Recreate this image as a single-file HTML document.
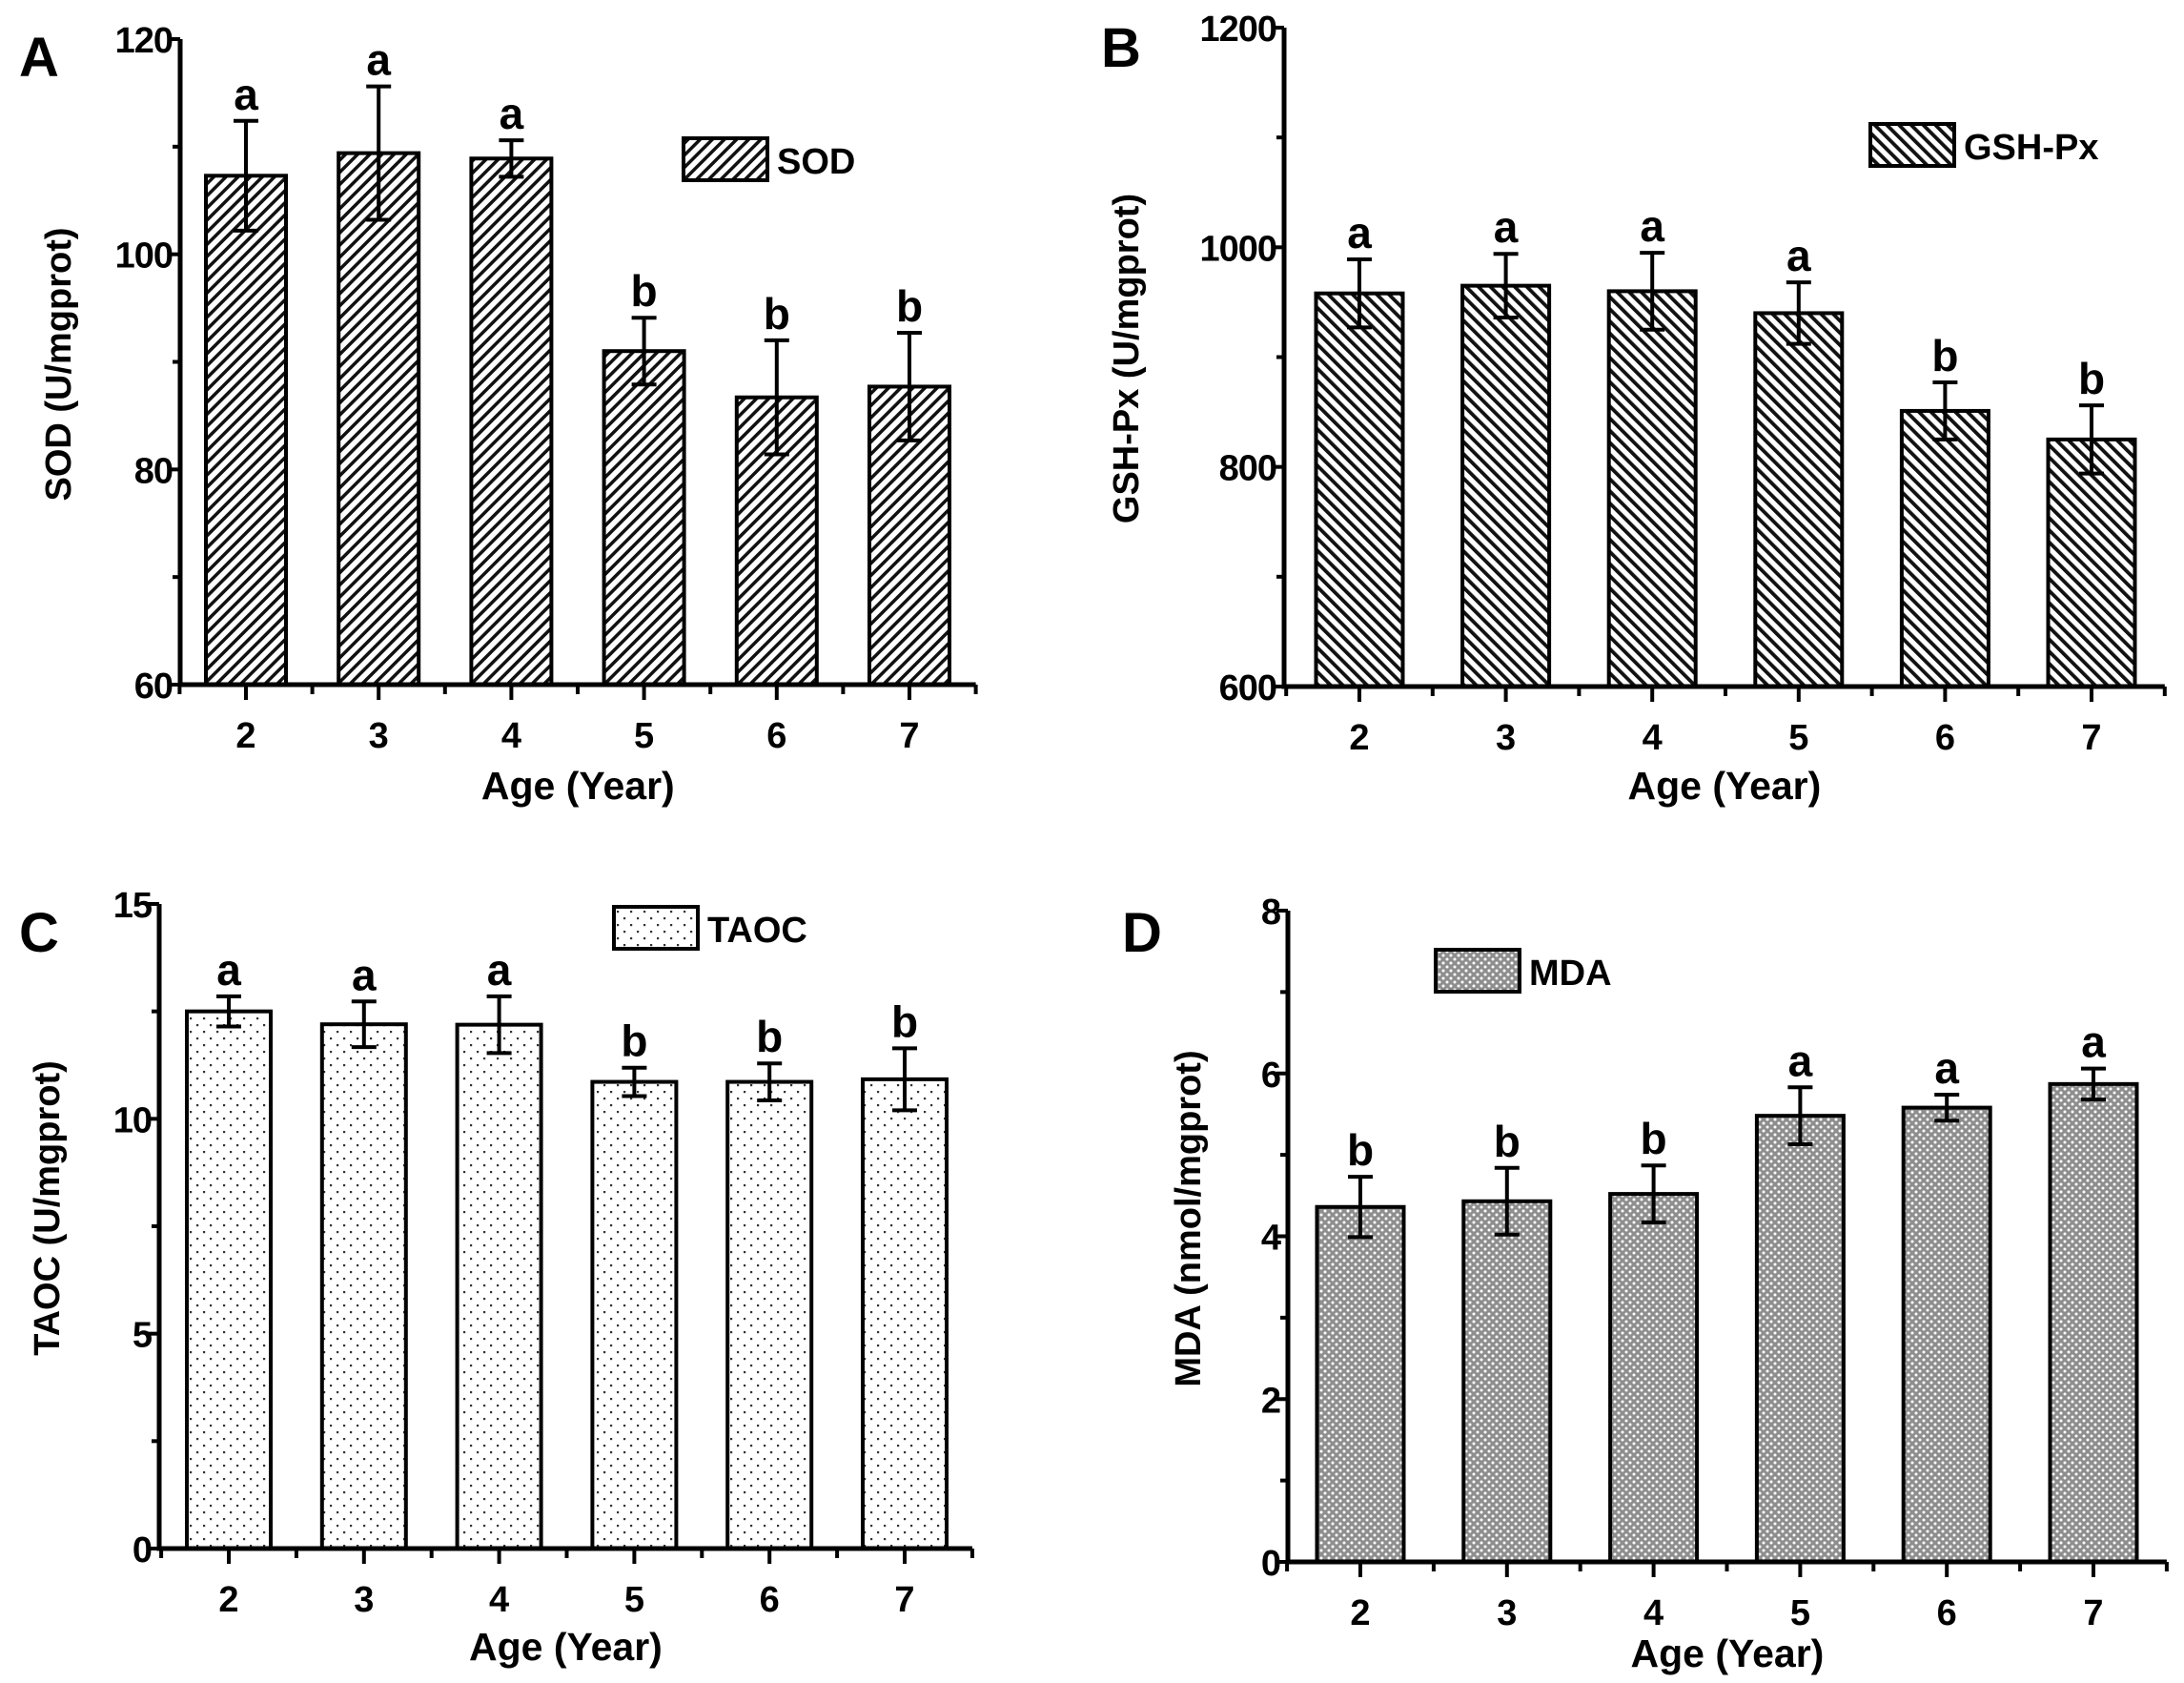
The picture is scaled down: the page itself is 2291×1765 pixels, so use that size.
<!DOCTYPE html>
<html><head><meta charset="utf-8"><style>
html,body{margin:0;padding:0;background:#fff;}
svg{display:block;font-family:"Liberation Sans",Arial,sans-serif;font-weight:bold;}
</style></head><body>
<svg id="fig" width="2291" height="1765" viewBox="0 0 2291 1765" xmlns="http://www.w3.org/2000/svg">
<defs>
<pattern id="patA" patternUnits="userSpaceOnUse" width="9" height="9" patternTransform="rotate(45)"><rect width="9" height="9" fill="#fff"/><rect x="0" y="0" width="3.5" height="9" fill="#111"/></pattern>
<pattern id="patB" patternUnits="userSpaceOnUse" width="9" height="9" patternTransform="rotate(-45)"><rect width="9" height="9" fill="#fff"/><rect x="0" y="0" width="3.8" height="9" fill="#111"/></pattern>
<pattern id="patC" patternUnits="userSpaceOnUse" width="14" height="14"><rect width="14" height="14" fill="#fff"/><rect x="3" y="3" width="2.2" height="2.2" fill="#333"/><rect x="10" y="10" width="2.2" height="2.2" fill="#333"/></pattern>
<pattern id="patD" patternUnits="userSpaceOnUse" width="8" height="8"><rect width="8" height="8" fill="#8e8e8e"/><circle cx="2" cy="2" r="1.5" fill="#fff"/><circle cx="6" cy="6" r="1.5" fill="#fff"/></pattern>
</defs>
</svg>
<script>
const categories = ['2','3','4','5','6','7'];
const sodValues = [107.3, 109.4, 108.9, 91.0, 86.7, 87.7];
const sodErrors = [5.1, 6.2, 1.7, 3.1, 5.3, 5.0];
const sodLetters = ['a','a','a','b','b','b'];
const sodTicks = [60, 80, 100, 120];
const gshValues = [958, 965, 960, 940, 851, 825];
const gshErrors = [31, 29, 35, 28, 26, 31];
const gshLetters = ['a','a','a','a','b','b'];
const gshTicks = [600, 800, 1000, 1200];
const taocValues = [12.5, 12.2, 12.19, 10.86, 10.86, 10.92];
const taocErrors = [0.35, 0.53, 0.66, 0.33, 0.43, 0.72];
const taocLetters = ['a','a','a','b','b','b'];
const taocTicks = [0, 5, 10, 15];
const mdaValues = [4.36, 4.43, 4.52, 5.48, 5.58, 5.87];
const mdaErrors = [0.37, 0.41, 0.35, 0.35, 0.16, 0.19];
const mdaLetters = ['b','b','b','a','a','a'];
const mdaTicks = [0, 2, 4, 6, 8];

const NS='http://www.w3.org/2000/svg';
const svg=document.getElementById('fig');
function el(tag,attrs,parent,text){const e=document.createElementNS(NS,tag);for(const k in attrs)e.setAttribute(k,attrs[k]);if(text!==undefined)e.textContent=text;(parent||svg).appendChild(e);return e;}

function panel(p){
  const g=el('g',{},svg);
  
  
  const ymin=p.ticks[0], ymax=p.ticks[p.ticks.length-1];
  const Y=v=>p.y0-(v-ymin)/(ymax-ymin)*(p.y0-p.y1);
  const step=(p.c7-p.c2)/(categories.length-1);
  const X=i=>p.c2+i*step;
  p.values.forEach((v,i)=>{
    const r=el('rect',{x:X(i)-p.bw/2,y:Y(v),width:p.bw,height:p.y0-Y(v),fill:'url(#'+p.pat+')',stroke:'#000','stroke-width':4},g);
    
    
    const e=p.errors[i];
    const eb=el('path',{d:`M${X(i)} ${Y(v+e)}V${Y(v-e)}M${X(i)-13} ${Y(v+e)}H${X(i)+13}M${X(i)-13} ${Y(v-e)}H${X(i)+13}`,stroke:'#000','stroke-width':4,fill:'none'},g);
    
    
    const t=el('text',{x:X(i),y:Y(v+e)-12,'text-anchor':'middle','font-size':46},g,p.letters[i]);
    
    
  });
  const xEnd=p.c7+step/2;
  const ax=el('path',{d:`M${p.ax} ${p.y1}V${p.y0}H${xEnd}`,stroke:'#000','stroke-width':5,fill:'none'},g);
  
  
  p.ticks.forEach((t,k)=>{
    el('path',{d:`M${p.ax-12} ${Y(t)}H${p.ax}`,stroke:'#000','stroke-width':4},g);
    const tl=el('text',{x:p.ax-8,y:Y(t)+14,'text-anchor':'end','font-size':38,'letter-spacing':-1},g,String(t));
    
    
    if(k<p.ticks.length-1){const m=(t+p.ticks[k+1])/2;el('path',{d:`M${p.ax-8} ${Y(m)}H${p.ax}`,stroke:'#000','stroke-width':4},g);}
  });
  categories.forEach((c,i)=>{
    el('path',{d:`M${X(i)} ${p.y0}v16`,stroke:'#000','stroke-width':4},g);
    el('path',{d:`M${X(i)-step/2} ${p.y0}v10`,stroke:'#000','stroke-width':4},g);
    const tl=el('text',{x:X(i),y:p.y0+66,'text-anchor':'middle','font-size':38},g,c);
    
    
  });
  el('path',{d:`M${xEnd} ${p.y0}v10`,stroke:'#000','stroke-width':4},g);
  const xt=el('text',{x:p.ax+(xEnd-p.ax)/2,y:p.xty,'text-anchor':'middle','font-size':41},g,'Age (Year)');
  
  
  const yt=el('text',{x:0,y:0,'text-anchor':'middle','font-size':38,transform:`translate(${p.ytx},${p.yty}) rotate(-90)`},g,p.ytitle);
  
  
  const pl=el('text',{x:p.lx,y:p.ly,'font-size':58},g,p.id);
  
  
  const lg=el('g',{},g);
  
  
  el('rect',{x:p.lgx,y:p.lgy,width:88,height:44,fill:'url(#'+p.pat+')',stroke:'#000','stroke-width':4},lg);
  el('text',{x:p.lgx+98,y:p.lgy+37,'font-size':38},lg,p.series);
}

panel({id:'A',values:sodValues,errors:sodErrors,letters:sodLetters,ticks:sodTicks,pat:'patA',ax:189,y1:41,y0:718,c2:258,c7:954,bw:84,xty:838,ytx:74,yty:382,ytitle:'SOD (U/mgprot)',lx:20,ly:80,lgx:717,lgy:145,series:'SOD'});
panel({id:'B',values:gshValues,errors:gshErrors,letters:gshLetters,ticks:gshTicks,pat:'patB',ax:1347,y1:29,y0:720,c2:1426,c7:2194,bw:91,xty:838,ytx:1194,yty:376,ytitle:'GSH-Px (U/mgprot)',lx:1155,ly:70,lgx:1962,lgy:130,series:'GSH-Px'});
panel({id:'C',values:taocValues,errors:taocErrors,letters:taocLetters,ticks:taocTicks,pat:'patC',ax:167,y1:948,y0:1624,c2:240,c7:949,bw:88,xty:1741,ytx:62,yty:1267,ytitle:'TAOC (U/mgprot)',lx:20,ly:998,lgx:644,lgy:951,series:'TAOC'});
panel({id:'D',values:mdaValues,errors:mdaErrors,letters:mdaLetters,ticks:mdaTicks,pat:'patD',ax:1351,y1:955,y0:1638,c2:1427,c7:2196,bw:91,xty:1748,ytx:1259,yty:1278,ytitle:'MDA (nmol/mgprot)',lx:1177,ly:998,lgx:1506,lgy:996,series:'MDA'});
</script>
</body></html>
